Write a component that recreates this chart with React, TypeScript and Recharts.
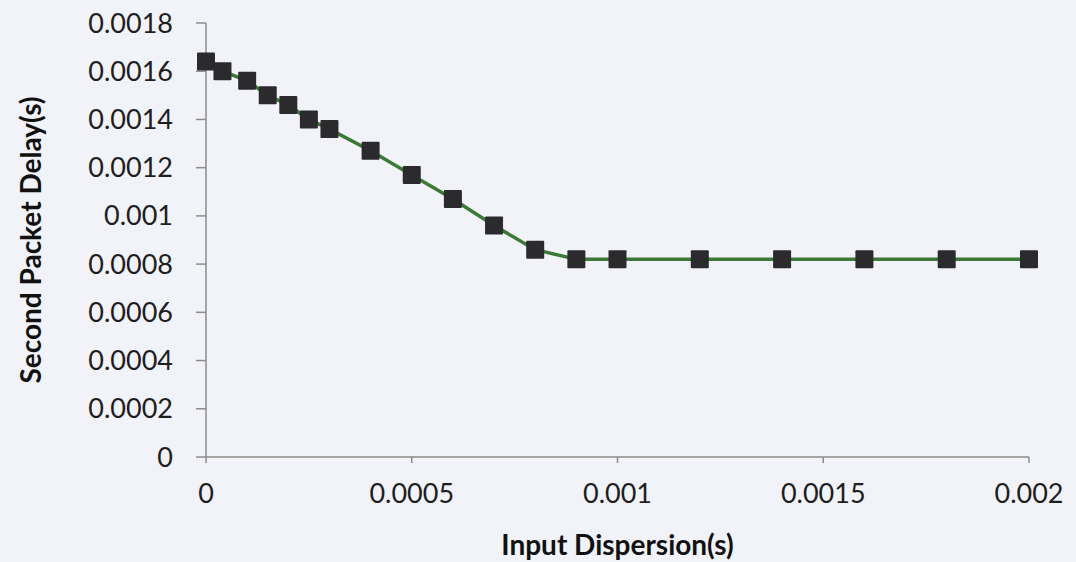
import { LineChart, Line, XAxis, YAxis } from 'recharts';

// input dispersion (s)
const dispersion = [
  0, 0.00004, 0.0001, 0.00015, 0.0002, 0.00025, 0.0003, 0.0004, 0.0005, 0.0006, 0.0007, 0.0008,
  0.0009, 0.001, 0.0012, 0.0014, 0.0016, 0.0018, 0.002,
];
// second packet delay (s)
const delay = [
  0.00164, 0.0016, 0.00156, 0.0015, 0.00146, 0.0014, 0.00136, 0.00127, 0.00117, 0.00107, 0.00096,
  0.00086, 0.00082, 0.00082, 0.00082, 0.00082, 0.00082, 0.00082, 0.00082,
];
const xTicks = [0, 0.0005, 0.001, 0.0015, 0.002];
const yTicks = [0, 0.0002, 0.0004, 0.0006, 0.0008, 0.001, 0.0012, 0.0014, 0.0016, 0.0018];

const data = dispersion.map((x, i) => ({ x, y: delay[i] }));

const FONT = 'Lato, "Open Sans", sans-serif';
const AXIS = '#8c8c8c';

function SquareDot(props: { cx?: number; cy?: number; index?: number }) {
  const { cx, cy, index } = props;
  if (cx == null || cy == null) return null;
  const s = 18;
  return <rect key={index} x={cx - s / 2} y={cy - s / 2} width={s} height={s} fill="#2b2b2d" rx={1} />;
}

export default function App() {
  return (
    <div style={{ position: 'absolute', left: 0, top: 0, width: 1076, height: 562, background: '#f1f3f8' }}>
      <LineChart width={1076} height={562} data={data} margin={{ top: 23, right: 47, bottom: 0, left: 0 }}>
        <XAxis
          dataKey="x"
          type="number"
          domain={[0, 0.002]}
          ticks={xTicks}
          tickFormatter={(v: number) => String(v)}
          height={105}
          stroke={AXIS}
          strokeWidth={1.5}
          tickSize={6}
          tickMargin={21}
          tick={{ fill: '#1e1e1e', fontSize: 27, fontFamily: FONT }}
          label={{
            value: 'Input Dispersion(s)',
            position: 'insideBottom',
            offset: 7,
            style: { fill: '#111', fontSize: 28, fontWeight: 700, fontFamily: FONT },
          }}
        />
        <YAxis
          type="number"
          domain={[0, 0.0018]}
          ticks={yTicks}
          tickFormatter={(v: number) => String(v)}
          width={206}
          stroke={AXIS}
          strokeWidth={1.5}
          tickSize={10}
          tickMargin={23}
          tick={{ fill: '#1e1e1e', fontSize: 27, fontFamily: FONT }}
          label={{
            value: 'Second Packet Delay(s)',
            angle: -90,
            position: 'insideLeft',
            offset: 31,
            style: { fill: '#111', fontSize: 28, fontWeight: 700, fontFamily: FONT, textAnchor: 'middle' },
          }}
        />
        <Line
          type="linear"
          dataKey="y"
          stroke="#3b7a35"
          strokeWidth={3.5}
          dot={<SquareDot />}
          activeDot={false}
          isAnimationActive={false}
        />
      </LineChart>
    </div>
  );
}
